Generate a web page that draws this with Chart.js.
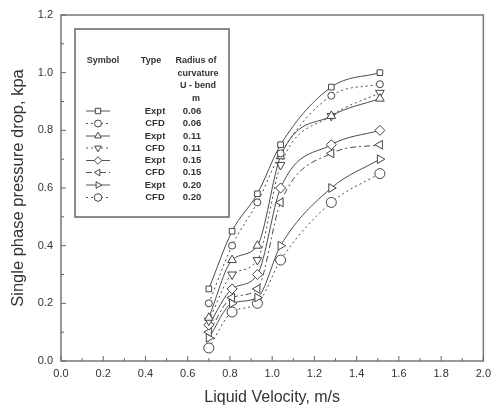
<!DOCTYPE html>
<html>
<head>
<meta charset="utf-8">
<script src="https://cdn.jsdelivr.net/npm/chart.js@4"></script>
<style>
  html, body { margin: 0; padding: 0; background: #fff; }
  #wrap { width: 497px; height: 409px; position: relative; }
</style>
</head>
<body>
<div id="wrap"><canvas id="dpChart" width="497" height="409"></canvas></div>
<script>
  // liquid velocity (m/s) at the measured points
  const velocity = [0.70, 0.81, 0.93, 1.04, 1.28, 1.51];

  // single phase pressure drop, kpa
  const expt006 = [0.25, 0.45, 0.58, 0.75, 0.95, 1.00];
  const cfd006  = [0.20, 0.40, 0.55, 0.72, 0.92, 0.96];
  const expt011 = [0.15, 0.35, 0.40, 0.71, 0.85, 0.91];
  const cfd011  = [0.14, 0.30, 0.35, 0.68, 0.85, 0.93];
  const expt015 = [0.125, 0.25, 0.30, 0.60, 0.75, 0.80];
  const cfd015  = [0.10, 0.22, 0.25, 0.55, 0.72, 0.75];
  const expt020 = [0.08, 0.20, 0.22, 0.40, 0.60, 0.70];
  const cfd020  = [0.045, 0.17, 0.20, 0.35, 0.55, 0.65];

  const seriesTypes = ['Expt', 'CFD', 'Expt', 'CFD', 'Expt', 'CFD', 'Expt', 'CFD'];
  const seriesRadius = ['0.06', '0.06', '0.11', '0.11', '0.15', '0.15', '0.20', '0.20'];

  const xTicks = [0, 0.2, 0.4, 0.6, 0.8, 1.0, 1.2, 1.4, 1.6, 1.8, 2.0];
  const yTicks = [0, 0.2, 0.4, 0.6, 0.8, 1.0, 1.2];

  const ink = '#444';
  const dotted = [2, 3];
  const dashDot = [6, 3, 2, 3];
  const fontFamily = '"Liberation Sans", Arial, sans-serif';

  function pts(ys) {
    return velocity.map((v, i) => ({ x: v, y: ys[i] }));
  }

  function series(ys, style, radius, rotation, dash) {
    return {
      data: pts(ys),
      borderColor: '#4a4a4a',
      borderWidth: 1,
      borderDash: dash,
      cubicInterpolationMode: 'monotone',
      pointStyle: style,
      pointRotation: rotation,
      pointRadius: radius,
      pointBorderColor: ink,
      pointBorderWidth: 1,
      pointBackgroundColor: '#fff',
      fill: false
    };
  }

  const datasets = [
    series(expt006, 'rect', 4, 0, []),
    series(cfd006, 'circle', 3.5, 0, dotted),
    series(expt011, 'triangle', 5, 0, []),
    series(cfd011, 'triangle', 5, 180, dotted),
    series(expt015, 'rectRot', 5, 0, []),
    series(cfd015, 'triangle', 5, -90, dashDot),
    series(expt020, 'triangle', 5, 90, []),
    series(cfd020, 'circle', 5, 0, dotted)
  ];

  // frame, inward ticks and the symbol table
  const framePlugin = {
    id: 'frame',
    afterDraw(chart) {
      const ctx = chart.ctx;
      const a = chart.chartArea;
      const xs = chart.scales.x, ys = chart.scales.y;
      ctx.save();
      ctx.strokeStyle = '#777';
      ctx.lineWidth = 1.5;
      ctx.strokeRect(a.left, a.top, a.right - a.left, a.bottom - a.top);

      ctx.lineWidth = 1;
      ctx.strokeStyle = '#666';
      for (let i = 0; i <= 20; i++) {
        const px = xs.getPixelForValue(i / 10);
        const len = i % 2 === 0 ? 5 : 3;
        ctx.beginPath();
        ctx.moveTo(px, a.bottom);
        ctx.lineTo(px, a.bottom - len);
        ctx.stroke();
      }
      for (let i = 0; i <= 12; i++) {
        const py = ys.getPixelForValue(i / 10);
        const len = i % 2 === 0 ? 5 : 3;
        ctx.beginPath();
        ctx.moveTo(a.left, py);
        ctx.lineTo(a.left + len, py);
        ctx.stroke();
      }

      // legend box
      ctx.strokeStyle = '#666';
      ctx.lineWidth = 1.5;
      ctx.strokeRect(75, 29, 154, 188);

      ctx.fillStyle = '#333';
      ctx.font = 'bold 9px ' + fontFamily;
      ctx.textAlign = 'center';
      ctx.textBaseline = 'middle';
      ctx.fillText('Symbol', 103, 61);
      ctx.fillText('Type', 151, 61);
      ctx.fillText('Radius of', 196, 61);
      ctx.fillText('curvature', 198, 73.5);
      ctx.fillText('U - bend', 198, 85.5);
      ctx.fillText('m', 196, 98.5);

      ctx.font = 'bold 9.5px ' + fontFamily;
      const rows = [111, 123.5, 136, 148, 160.5, 172.5, 185, 197.5];
      datasets.forEach((ds, i) => {
        const y = rows[i];
        ctx.strokeStyle = '#555';
        ctx.lineWidth = 1;
        ctx.setLineDash(ds.borderDash);
        ctx.beginPath();
        ctx.moveTo(86, y);
        ctx.lineTo(110, y);
        ctx.stroke();
        ctx.setLineDash([]);
        ctx.fillStyle = '#fff';
        ctx.strokeStyle = ink;
        Chart.helpers.drawPoint(ctx, {
          pointStyle: ds.pointStyle,
          rotation: ds.pointRotation,
          radius: Math.min(ds.pointRadius, 3.8),
          borderWidth: 1
        }, 98, y);
        ctx.fillStyle = '#333';
        ctx.fillText(seriesTypes[i], 155, y);
        ctx.fillText(seriesRadius[i], 192, y);
      });
      ctx.restore();
    }
  };

  const ctx = document.getElementById('dpChart').getContext('2d');
  new Chart(ctx, {
    type: 'line',
    data: { datasets: datasets },
    plugins: [framePlugin],
    options: {
      responsive: false,
      animation: false,
      layout: { padding: { top: 15, right: 11, left: 0, bottom: 0 } },
      plugins: {
        legend: { display: false },
        tooltip: { enabled: false }
      },
      scales: {
        x: {
          type: 'linear',
          min: 0,
          max: 2,
          afterFit: s => { s.height = 48; },
          afterBuildTicks: s => { s.ticks = xTicks.map(v => ({ value: v })); },
          grid: { drawOnChartArea: false, drawTicks: false },
          border: { display: false },
          ticks: {
            padding: 6,
            color: '#333',
            font: { family: fontFamily, size: 11 },
            callback: v => v.toFixed(1)
          },
          title: {
            display: true,
            text: 'Liquid Velocity, m/s',
            color: '#333',
            font: { family: fontFamily, size: 16 },
            padding: { top: 0, bottom: 2 }
          }
        },
        y: {
          type: 'linear',
          min: 0,
          max: 1.2,
          afterFit: s => { s.width = 61; },
          afterBuildTicks: s => { s.ticks = yTicks.map(v => ({ value: v })); },
          grid: { drawOnChartArea: false, drawTicks: false },
          border: { display: false },
          ticks: {
            padding: 8,
            color: '#333',
            font: { family: fontFamily, size: 11 },
            callback: v => v.toFixed(1)
          },
          title: {
            display: true,
            text: 'Single phase pressure drop, kpa',
            color: '#333',
            font: { family: fontFamily, size: 16.5 },
            padding: { top: 9, bottom: 0 }
          }
        }
      }
    }
  });
</script>
</body>
</html>
